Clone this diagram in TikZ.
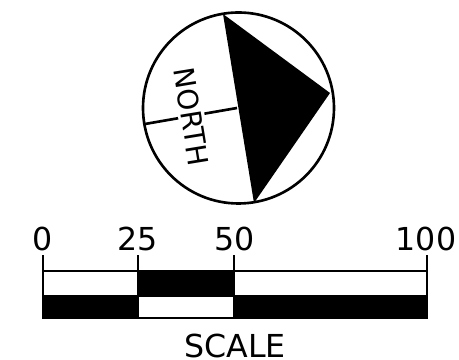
\documentclass[tikz,border=0pt]{standalone}
\usepackage{fontspec}
\setmainfont{DejaVu Sans}
\tikzset{
    heavy/.style={line width=1.5pt, black},
    blackbar/.style={fill=black, draw=black, line width=1.3pt},
    whitebar/.style={fill=white, draw=black, line width=1.3pt},
    ticklabel/.style={inner sep=0pt, font=\fontsize{18}{20}\selectfont},
}
\begin{document}
\begin{tikzpicture}
    \useasboundingbox (0, 0) rectangle (9.18, 7.2);

    % north arrow
    \coordinate (apex) at (4.46, 6.92);
    \coordinate (tip) at (6.6, 5.34);
    \coordinate (foot) at (5.08, 3.14);
    \coordinate (west) at (2.9, 4.72);
    \coordinate (mid) at (4.74, 5.04);
    \draw[heavy] (4.77, 5.04) circle (1.91);
    \fill (apex) -- (tip) -- (foot) -- cycle;
    \draw[heavy] (west) -- (mid);
    \node[rotate=-80.7, fill=white, inner sep=1.5pt, font=\fontsize{16}{18}\selectfont] (north) at (3.83, 4.86) {NORTH};

    % scale bar
    \draw[whitebar] (0.86, 1.78) rectangle (2.76, 1.28);
    \draw[blackbar] (2.76, 1.78) rectangle (4.68, 1.28);
    \draw[whitebar] (4.68, 1.78) rectangle (8.54, 1.28);
    \draw[blackbar] (0.86, 1.28) rectangle (2.76, 0.84);
    \draw[whitebar] (2.76, 1.28) rectangle (4.68, 0.84);
    \draw[blackbar] (4.68, 1.28) rectangle (8.54, 0.84);

    \node[ticklabel] (zero) at (0.85, 2.42) {0};
    \node[ticklabel] (quarter) at (2.76, 2.42) {25};
    \node[ticklabel] (half) at (4.69, 2.42) {50};
    \node[ticklabel] (full) at (8.52, 2.42) {100};
    \coordinate (a) at (0.86, 1.78);
    \coordinate (b) at (2.76, 1.78);
    \coordinate (c) at (4.68, 1.78);
    \coordinate (d) at (8.54, 1.78);
    \draw[heavy] (a) -- (0.86, 2.1);
    \draw[heavy] (b) -- (2.76, 2.1);
    \draw[heavy] (c) -- (4.68, 2.1);
    \draw[heavy] (d) -- (8.54, 2.1);
    \node[inner sep=0pt, font=\fontsize{18}{20}\selectfont] (scale) at (4.7, 0.29) {SCALE};
\end{tikzpicture}
\end{document}
